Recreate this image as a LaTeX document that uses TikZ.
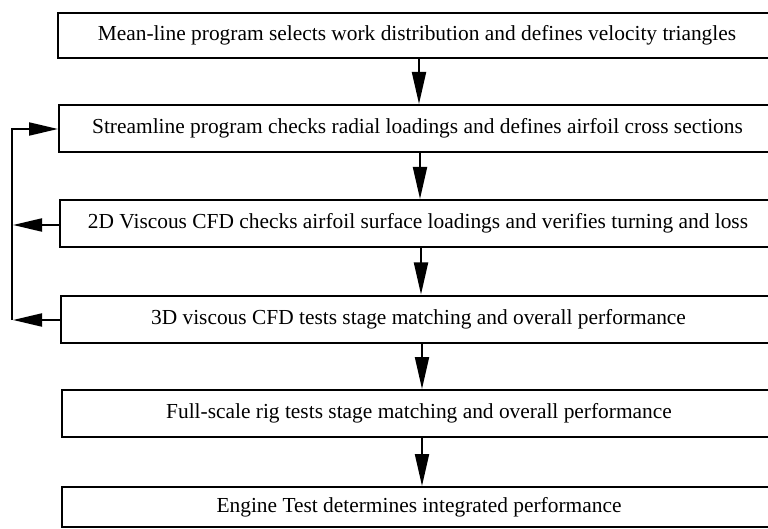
\documentclass[tikz,border=0pt]{standalone}
\usepackage{fontspec}
\setmainfont{Liberation Serif}
\usetikzlibrary{arrows.meta}
\begin{document}
\begin{tikzpicture}[x=1pt,y=-1pt,
  box/.style={draw, line width=2pt, rectangle, inner sep=0pt,
    font=\fontsize{21.4}{25}\selectfont},
  flow/.style={line width=2pt, -{Triangle[length=32pt,width=14pt]}},
  back/.style={line width=2pt, -{Triangle[length=29pt,width=13pt]}}]
\useasboundingbox (0,0) rectangle (768,529);
\clip (0,0) rectangle (768,529);
\node[box, minimum width=718pt, minimum height=45pt] (b1) at (417,35.5)
  {Mean-line program selects work distribution and defines velocity triangles};
\node[box, minimum width=717pt, minimum height=47pt] (b2) at (417.5,128.5)
  {Streamline program checks radial loadings and defines airfoil cross sections};
\node[box, minimum width=716pt, minimum height=47.5pt] (b3) at (418,223.75)
  {2D Viscous CFD checks airfoil surface loadings and verifies turning and loss};
\node[box, minimum width=715pt, minimum height=47pt] (b4) at (418.5,319)
  {3D viscous CFD tests stage matching and overall performance};
\node[box, minimum width=714pt, minimum height=47pt] (b5) at (419,413.5)
  {Full-scale rig tests stage matching and overall performance};
\node[box, minimum width=714pt, minimum height=40pt] (b6) at (419,507)
  {Engine Test determines integrated performance};
% downward flow
\draw[flow] (b1.south -| 419,0) -- (b2.north -| 419,0);
\draw[flow] (b2.south -| 420,0) -- (b3.north -| 420,0);
\draw[flow] (b3.south -| 421,0) -- (b4.north -| 421,0);
\draw[flow] (b4.south -| 422,0) -- (b5.north -| 422,0);
\draw[flow] (b5.south -| 422,0) -- (b6.north -| 422,0);
% feedback loop
\coordinate (l2) at (12,129);
\coordinate (l3) at (13,225);
\coordinate (l4) at (12,320);
\coordinate (l4t) at (13,320);
\draw[back] (l4) -- (l2) -- (b2.west |- l2);
\draw[back] (b3.west |- l3) -- (l3);
\draw[back] (b4.west |- l4t) -- (l4t);
\end{tikzpicture}
\end{document}
